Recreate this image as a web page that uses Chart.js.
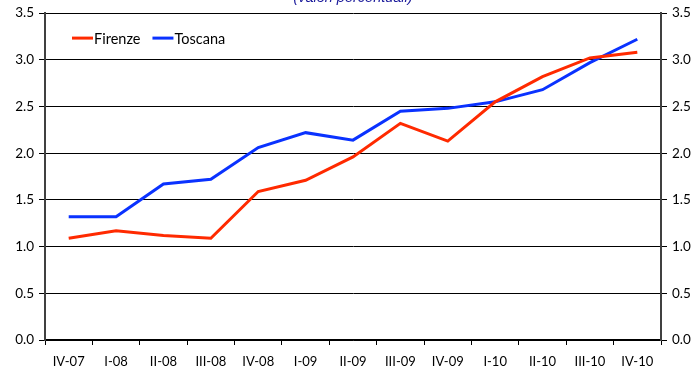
<!DOCTYPE html>
<html>
<head>
<meta charset="utf-8">
<script src="https://cdn.jsdelivr.net/npm/chart.js@4/dist/chart.umd.min.js"></script>
<style>
  html, body { margin: 0; padding: 0; background: #fff; }
  #wrap { width: 698px; height: 371px; position: relative; }
</style>
</head>
<body>
<div id="wrap"><canvas id="c" width="698" height="371"></canvas></div>
<script>
// Quarterly periods
const categories = ['IV-07','I-08','II-08','III-08','IV-08','I-09','II-09','III-09','IV-09','I-10','II-10','III-10','IV-10'];
// Percentage values per area
const firenze = [1.09, 1.17, 1.12, 1.09, 1.59, 1.71, 1.96, 2.32, 2.13, 2.55, 2.82, 3.02, 3.08];
const toscana = [1.32, 1.32, 1.67, 1.72, 2.06, 2.22, 2.14, 2.45, 2.48, 2.55, 2.68, 2.97, 3.22];
const yTicks = [0, 0.5, 1, 1.5, 2, 2.5, 3, 3.5];
const subtitle = '(valori percentuali)';

const FONT = 'Lato, "Open Sans", sans-serif';

// Subtitle drawn above the plot, partially clipped by the canvas top
const subtitlePlugin = {
  id: 'subtitle',
  afterDraw(chart) {
    const { ctx, chartArea } = chart;
    ctx.save();
    ctx.font = 'italic 14.5px "Liberation Sans", Arial, sans-serif';
    ctx.fillStyle = '#1c1c9c';
    ctx.textAlign = 'center';
    ctx.textBaseline = 'alphabetic';
    ctx.fillText(subtitle, (chartArea.left + chartArea.right) / 2, 2);
    ctx.restore();
  }
};

// Line legend inside the top-left corner of the plot
const innerLegend = {
  id: 'innerLegend',
  afterDraw(chart) {
    const { ctx, chartArea } = chart;
    ctx.save();
    ctx.font = '14.5px ' + FONT;
    ctx.textBaseline = 'middle';
    let x = chartArea.left + 27;
    const y = chartArea.top + 25;
    chart.data.datasets.forEach(ds => {
      ctx.strokeStyle = ds.borderColor;
      ctx.lineWidth = 3;
      ctx.beginPath();
      ctx.moveTo(x, y);
      ctx.lineTo(x + 21, y);
      ctx.stroke();
      ctx.fillStyle = '#000';
      ctx.fillText(ds.label, x + 22, y + 1);
      x += 22 + ctx.measureText(ds.label).width + 12;
    });
    ctx.restore();
  }
};

const yTickOpts = {
  font: { family: FONT, size: 13.5 },
  color: '#000',
  padding: 5,
  callback: v => Number(v).toFixed(1)
};

new Chart(document.getElementById('c'), {
  type: 'line',
  data: {
    labels: categories,
    datasets: [
      { label: 'Firenze', data: firenze, borderColor: '#ff2a00', borderWidth: 3, pointRadius: 0, tension: 0, yAxisID: 'y' },
      { label: 'Toscana', data: toscana, borderColor: '#0a32ff', borderWidth: 3, pointRadius: 0, tension: 0, yAxisID: 'y' }
    ]
  },
  options: {
    responsive: false,
    animation: false,
    layout: { padding: { top: 12, left: 0, right: 0, bottom: 0 } },
    plugins: { legend: { display: false }, tooltip: { enabled: false }, title: { display: false } },
    scales: {
      x: {
        offset: true,
        grid: { offset: true, drawOnChartArea: false, drawTicks: true, tickLength: 5, color: '#000' },
        border: { color: '#000', width: 1.5 },
        ticks: { font: { family: FONT, size: 13 }, color: '#000', padding: 9, maxRotation: 0, autoSkip: false },
        afterFit(s) { s.height = 31; }
      },
      y: {
        position: 'left',
        min: 0, max: 3.5,
        afterBuildTicks(s) { s.ticks = yTicks.map(v => ({ value: v })); },
        grid: { color: '#000', lineWidth: 1, tickLength: 6 },
        border: { color: '#404040', width: 2 },
        ticks: yTickOpts,
        afterFit(s) { s.width = 45; }
      },
      y2: {
        position: 'right',
        min: 0, max: 3.5,
        afterBuildTicks(s) { s.ticks = yTicks.map(v => ({ value: v })); },
        grid: { drawOnChartArea: false, color: '#000', tickLength: 6 },
        border: { color: '#404040', width: 2 },
        ticks: yTickOpts,
        afterFit(s) { s.width = 37; }
      }
    }
  },
  plugins: [subtitlePlugin, innerLegend]
});
</script>
</body>
</html>
